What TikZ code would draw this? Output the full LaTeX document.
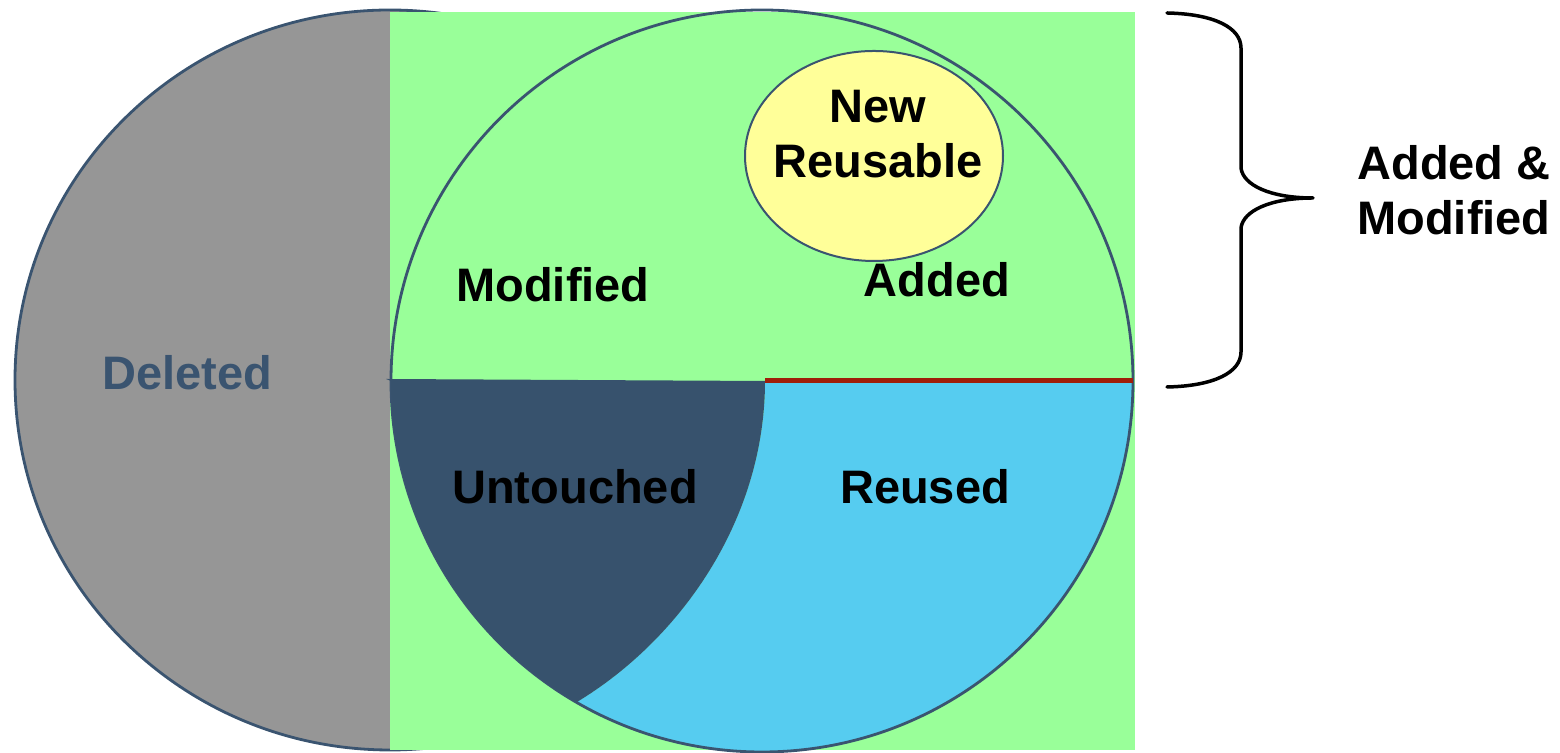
\documentclass[tikz,border=0pt]{standalone}
\usepackage{fontspec}
\setmainfont{Liberation Sans}
\definecolor{leafgreen}{RGB}{153,255,153}
\definecolor{delgray}{RGB}{150,150,150}
\definecolor{rimblue}{RGB}{58,84,112}
\definecolor{navyfill}{RGB}{55,82,109}
\definecolor{skyblue}{RGB}{86,204,240}
\definecolor{paleyellow}{RGB}{255,255,153}
\definecolor{rustred}{RGB}{160,30,10}
\begin{document}
\begin{tikzpicture}[x=0.5pt,y=0.5pt,line join=round,line cap=round,
		lbl/.style={font=\fontsize{23.5}{27.5}\selectfont\bfseries,inner sep=0pt},
		rim/.style={draw=rimblue,line width=1.4pt}]
	\useasboundingbox (0,0) rectangle (1560,753);
	\coordinate (O) at (762,372);
	\coordinate (T) at (576.5,50.7);
	\coordinate (M) at (765,372);
	\fill[delgray,rim] (390,373) ellipse[x radius=375,y radius=370];
	\fill[leafgreen] (390,3) rectangle (1135,741);
	\fill[skyblue] (T) arc[start angle=240,end angle=360,radius=371] -- (M)
		.. controls (765,233) and (680,113) .. (T) -- cycle;
	\draw[rim] (O) circle[radius=371];
	\fill[navyfill] (M) -- (386,374) -- (391,372) arc[start angle=180,end angle=240,radius=371]
		.. controls (680,113) and (765,233) .. (M) -- cycle;
	\draw[rustred,line width=2.5pt,line cap=butt] (M) -- (1133,372);
	\filldraw[fill=paleyellow,draw=rimblue,line width=1pt] (874,597) ellipse[x radius=129,y radius=105];
	\node[lbl,text=rimblue] (del) at (187,380) {Deleted};
	\node[lbl] (mod) at (553,468) {Modified};
	\node[lbl] (add) at (937,473) {Added};
	\node[lbl,align=center] (newr) at (878,619) {New\\Reusable};
	\node[lbl] (unt) at (575,266) {Untouched};
	\node[lbl] (reu) at (925,266) {Reused};
	\node[lbl,align=left,anchor=west] (addmod) at (1357,563) {Added \&\\Modified};
	\draw[line width=1.75pt] (1167,740) .. controls (1215,739) and (1241,725) .. (1241,705) -- (1241,585)
		.. controls (1243,568) and (1270,555) .. (1313,555)
		.. controls (1270,555) and (1243,542) .. (1241,525) -- (1241,401)
		.. controls (1241,381) and (1215,367) .. (1167,366);
\end{tikzpicture}
\end{document}
